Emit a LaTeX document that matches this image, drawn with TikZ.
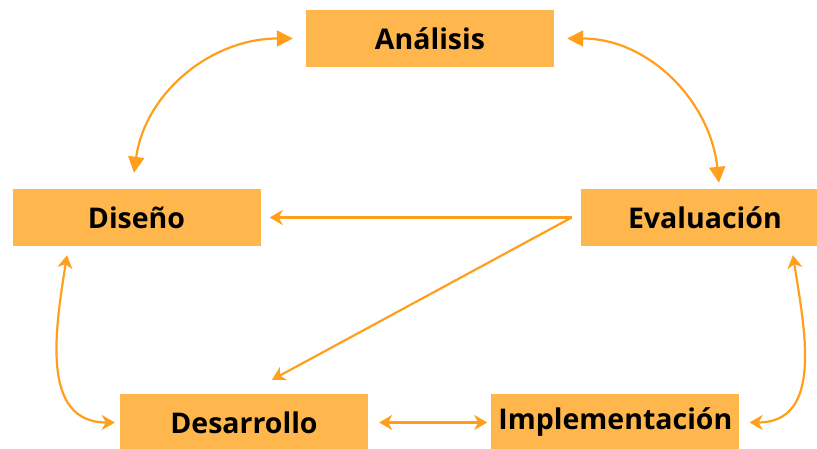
\documentclass[tikz,border=0pt]{standalone}
\usepackage{fontspec}
\setmainfont{Open Sans}
\usetikzlibrary{positioning, arrows.meta}
\definecolor{phaseFill}{HTML}{FFB74D}
\definecolor{flowOrange}{HTML}{FF9F1C}
\tikzset{
  every node/.style={font=\bfseries\fontsize{28.5}{32}\selectfont},
  phase/.style={fill=phaseFill, minimum width=248pt, minimum height=57pt, inner sep=0pt},
  arr/.style={-{Stealth[length=13pt, width=15pt, inset=4pt]}, flowOrange, line width=2.2pt},
  arrb/.style={{Stealth[length=13pt, width=15pt, inset=4pt]}-{Stealth[length=13pt, width=15pt, inset=4pt]}, flowOrange, line width=2.2pt},
  arrt/.style={{Triangle[length=16pt, width=16pt]}-{Triangle[length=16pt, width=16pt]}, flowOrange, line width=2.2pt},
}
\begin{document}
\begin{tikzpicture}[x=1pt, y=1pt]
  \useasboundingbox (0,0) rectangle (817,-449);
  \node[phase] (ana) at (430,-38.5) {Análisis};
  \node[phase] (dis) at (136.5,-217.5) {Diseño};
  \node[phase, right=320pt of dis] (eva) {Evaluación};
  \node[phase] (des) at (244,-422.5) {Desarrollo};
  \node[phase, right=123pt of des] (imp) {Implementación};
  \draw[arrt] ([xshift=-13pt]ana.west) to[out=180, in=82] ([xshift=-2.5pt, yshift=16pt]dis.north);
  \draw[arrt] ([xshift=13pt]ana.east) to[out=0, in=96] ([xshift=14pt, yshift=6pt]eva.north);
  \draw[arr] ([xshift=-9pt]eva.west) -- ([xshift=9pt]dis.east);
  \draw[arr] ([xshift=-9pt]eva.west) -- ([xshift=28pt, yshift=14pt]des.north);
  \draw[arrb] ([xshift=-69.5pt, yshift=-9pt]dis.south) to[out=261, in=180, looseness=1.1] ([xshift=-5pt]des.west);
  \draw[arrb] ([xshift=11pt]des.east) -- ([xshift=-4pt]imp.west);
  \draw[arrb] ([xshift=88pt, yshift=-9pt]eva.south) to[out=279, in=0, looseness=1.1] ([xshift=10pt]imp.east);
\end{tikzpicture}
\end{document}
